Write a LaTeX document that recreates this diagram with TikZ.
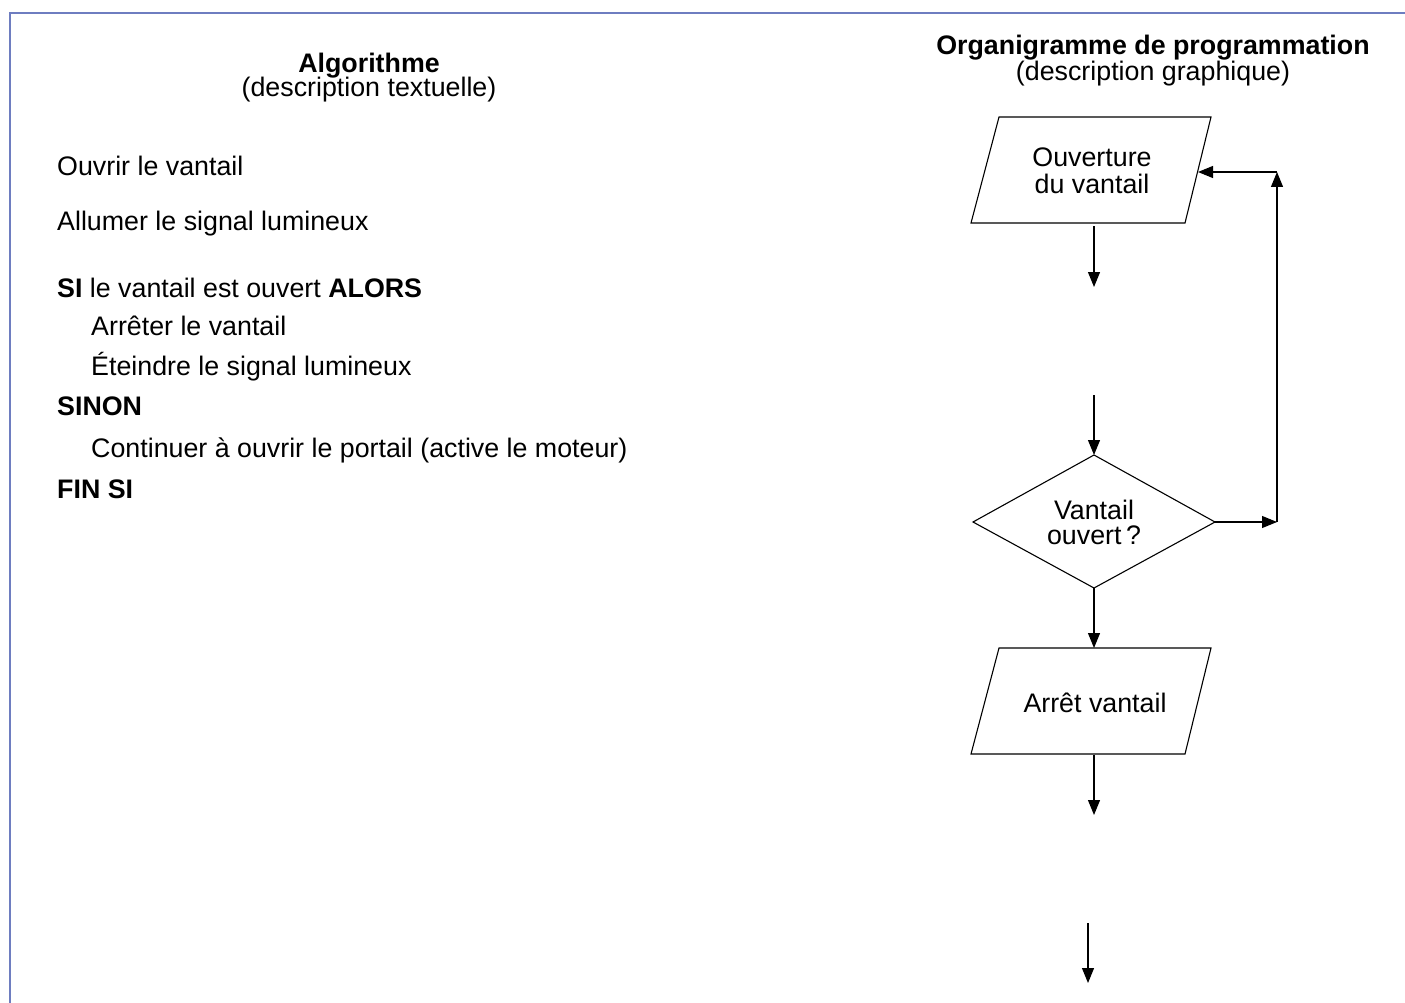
\documentclass[tikz,border=0pt]{standalone}
\usepackage{fontspec}
\setmainfont{Liberation Sans}
\usetikzlibrary{arrows.meta}
\definecolor{frameblue}{RGB}{110,125,192}
\begin{document}
\begin{tikzpicture}[x=1pt,y=-1pt,
  txt/.style={inner sep=0pt,font=\fontsize{26.8}{24}\selectfont},
  head/.style={txt,align=center,anchor=north},
  line/.style={line width=1.1pt,black},
  flow/.style={line,-{Triangle[length=15pt,width=12pt]}},
  shapeline/.style={line width=1.1pt,black,line join=miter}]
\useasboundingbox (0,0) rectangle (1405,1003);
% frame
\draw[frameblue,line width=1.6pt] (10,1003) -- (10,13) -- (1405,13);

% left column: textual algorithm
\node[head] (t1) at (369,53) {\bfseries Algorithme\\[-2pt](description textuelle)};
\node[txt,anchor=base west] (a1) at (57,176) {Ouvrir le vantail};
\node[txt,anchor=base west] (a2) at (57,230) {Allumer le signal lumineux};
\node[txt,anchor=base west] (a3) at (57,297) {\bfseries SI\mdseries{} le vantail est ouvert \bfseries ALORS};
\node[txt,anchor=base west] (a4) at (91,335) {Arrêter le vantail};
\node[txt,anchor=base west] (a5) at (91,375) {Éteindre le signal lumineux};
\node[txt,anchor=base west] (a6) at (57,415) {\bfseries SINON};
\node[txt,anchor=base west] (a7) at (91,457) {Continuer à ouvrir le portail (active le moteur)};
\node[txt,anchor=base west] (a8) at (57,498) {\bfseries FIN SI};

% right column: flowchart
\node[head] (g1) at (1153,35) {\bfseries Organigramme de programmation\\[0pt](description graphique)};

% input block: opening
\draw[shapeline] (999,117) -- (1211,117) -- (1185,223) -- (971,223) -- cycle;
\node[txt,anchor=base] (p1a) at (1092,167) {Ouverture};
\node[txt,anchor=base] (p1b) at (1092,194) {du vantail};
\coordinate (p1bot) at (1094,226);
\coordinate (p1right) at (1198,172);
\coordinate (o1end) at (1094,287);

% decision
\coordinate (dtop) at (1094,455);
\coordinate (dleft) at (973,522);
\coordinate (dright) at (1215,522);
\coordinate (dbot) at (1094,588);
\draw[shapeline] (dtop) -- (dright) -- (dbot) -- (dleft) -- cycle;
\node[txt,anchor=base] (q1) at (1094,519) {Vantail};
\node[txt,anchor=base] (q2) at (1094,544) {ouvert\thinspace?};
\coordinate (inD) at (1094,395);

% loop back
\coordinate (loopA) at (1277,522);
\coordinate (loopB) at (1277,172);

% output block: stop
\draw[shapeline] (999,648) -- (1211,648) -- (1185,754) -- (971,754) -- cycle;
\node[txt,anchor=base] (p2) at (1095,712) {Arrêt vantail};
\coordinate (p2top) at (1094,648);
\coordinate (p2bot) at (1094,755);
\coordinate (o2end) at (1094,815);
\coordinate (lastA) at (1088,923);
\coordinate (lastB) at (1088,983);

% connectors
\draw[flow] (p1bot) -- (o1end);
\draw[flow] (inD) -- (dtop);
\draw[flow] (dbot) -- (p2top);
\draw[flow] (p2bot) -- (o2end);
\draw[flow] (lastA) -- (lastB);
\draw[flow] (dright) -- (loopA);
\draw[flow] (loopA) -- (loopB);
\draw[flow] (loopB) -- (p1right);
\end{tikzpicture}
\end{document}
